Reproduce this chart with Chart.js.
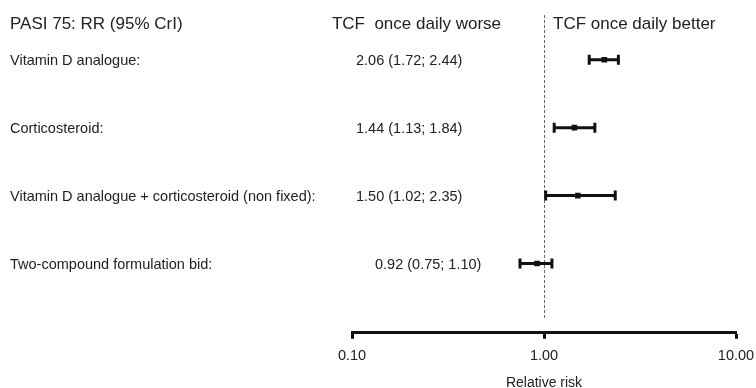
<!DOCTYPE html>
<html>
<head>
<meta charset="utf-8">
<script src="https://cdn.jsdelivr.net/npm/chart.js@4.4.1/dist/chart.umd.min.js"></script>
<style>
  html, body { margin: 0; padding: 0; background: #fff; }
  #wrap { width: 756px; height: 388px; position: relative; }
</style>
</head>
<body>
<div id="wrap"><canvas id="c" width="756" height="388"></canvas></div>
<script>
// Comparisons against TCF once daily (PASI 75 relative risk with 95% credible interval)
const comparators = [
  'Vitamin D analogue:',
  'Corticosteroid:',
  'Vitamin D analogue + corticosteroid (non fixed):',
  'Two-compound formulation bid:'
];
const rrEstimate = [2.06, 1.44, 1.50, 0.92];
const rrLower    = [1.72, 1.13, 1.02, 0.75];
const rrUpper    = [2.44, 1.84, 2.35, 1.10];
const axisTicks  = [0.1, 1, 10];
const summaryX   = [356, 356, 356, 375];

const FONT = '"Liberation Sans", Arial, Helvetica, sans-serif';
const INK = '#222';

const fmt = v => v.toFixed(2);
const rowIndex = comparators.map((_, i) => i + 1);

const forestPlugin = {
  id: 'forest',
  beforeDatasetsDraw(chart) {
    const { ctx, scales: { x, y } } = chart;
    ctx.save();
    // reference line at RR = 1
    const x1 = x.getPixelForValue(1);
    ctx.strokeStyle = '#666';
    ctx.lineWidth = 1;
    ctx.setLineDash([3, 2]);
    ctx.beginPath();
    ctx.moveTo(x1 + 0.5, 15);
    ctx.lineTo(x1 + 0.5, 318);
    ctx.stroke();
    ctx.setLineDash([]);

    // interval whiskers
    ctx.strokeStyle = '#111';
    ctx.lineWidth = 3;
    rowIndex.forEach((r, i) => {
      const py = y.getPixelForValue(r);
      const a = x.getPixelForValue(rrLower[i]);
      const b = x.getPixelForValue(rrUpper[i]);
      ctx.beginPath();
      ctx.moveTo(a, py); ctx.lineTo(b, py);
      ctx.moveTo(a, py - 5); ctx.lineTo(a, py + 5);
      ctx.moveTo(b, py - 5); ctx.lineTo(b, py + 5);
      ctx.stroke();
    });
    ctx.restore();
  },
  afterDraw(chart) {
    const { ctx, scales: { x, y } } = chart;
    ctx.save();
    ctx.fillStyle = INK;
    ctx.textBaseline = 'middle';

    ctx.font = '17px ' + FONT;
    ctx.textAlign = 'left';
    ctx.fillText('PASI 75: RR (95% CrI)', 10, 24);
    ctx.textAlign = 'right';
    ctx.fillText('TCF  once daily worse', 501, 24);
    ctx.textAlign = 'left';
    ctx.fillText('TCF once daily better', 553, 24);

    ctx.font = '14.5px ' + FONT;
    rowIndex.forEach((r, i) => {
      const py = y.getPixelForValue(r) + 1;
      ctx.textAlign = 'left';
      ctx.fillText(comparators[i], 10, py);
      ctx.fillText(fmt(rrEstimate[i]) + ' (' + fmt(rrLower[i]) + '; ' + fmt(rrUpper[i]) + ')', summaryX[i], py);
    });
    ctx.restore();
  }
};

new Chart(document.getElementById('c'), {
  type: 'scatter',
  data: {
    datasets: [{
      data: rowIndex.map((r, i) => ({ x: rrEstimate[i], y: r })),
      pointStyle: 'rect',
      pointRadius: 4,
      backgroundColor: '#111',
      borderColor: '#111',
      borderWidth: 0
    }]
  },
  options: {
    responsive: false,
    animation: false,
    layout: { padding: { left: 352, right: 20, top: 3, bottom: 0 } },
    plugins: { legend: { display: false }, tooltip: { enabled: false } },
    scales: {
      x: {
        type: 'logarithmic',
        min: 0.1,
        max: 10,
        afterBuildTicks: s => { s.ticks = axisTicks.map(v => ({ value: v })); },
        afterFit: s => { s.paddingLeft = 0; s.paddingRight = 0; },
        border: { display: true, color: '#111', width: 3 },
        grid: { display: true, drawOnChartArea: false, drawTicks: true, tickLength: 6, tickWidth: 3, tickColor: '#111' },
        ticks: {
          font: { family: FONT, size: 14.5 },
          color: INK,
          padding: 8,
          maxRotation: 0,
          autoSkip: false,
          callback: v => fmt(v)
        },
        title: {
          display: true,
          text: 'Relative risk',
          font: { family: FONT, size: 14 },
          color: INK,
          padding: { top: 3, bottom: -4 }
        }
      },
      y: {
        type: 'linear',
        reverse: true,
        min: 0.18,
        max: 5.02,
        display: false
      }
    }
  },
  plugins: [forestPlugin]
});
</script>
</body>
</html>
